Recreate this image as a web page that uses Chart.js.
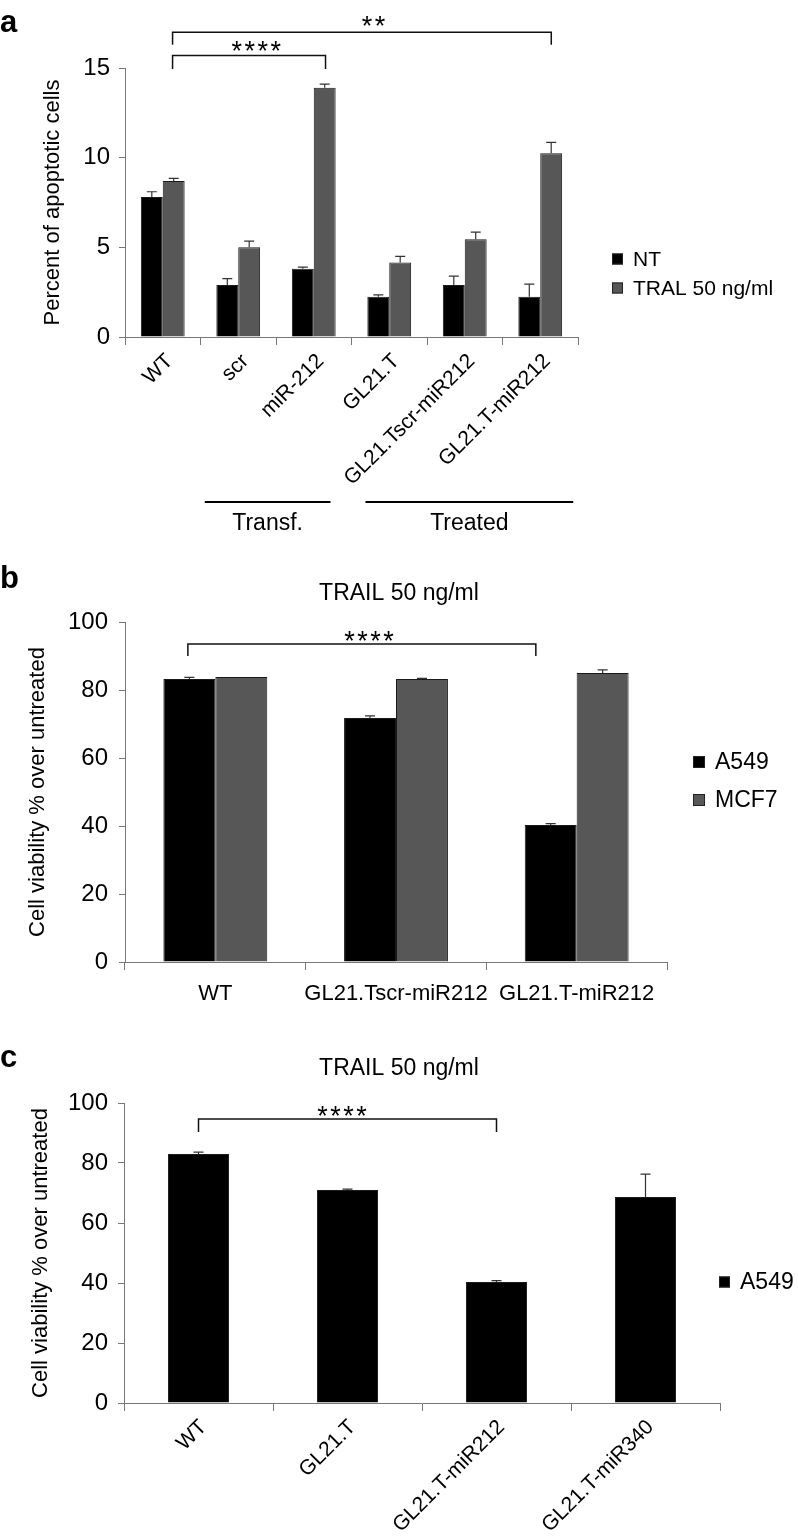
<!DOCTYPE html>
<html>
<head>
<meta charset="utf-8">
<script src="https://cdn.jsdelivr.net/npm/chart.js@4.4.1/dist/chart.umd.min.js"></script>
<style>
  body { margin: 0; background: #fff; width: 798px; height: 1536px; position: relative; overflow: hidden; }
  .panel { position: absolute; left: 0; width: 798px; }
</style>
</head>
<body>
<div class="panel" style="top:0;height:540px"><canvas id="chartA" width="798" height="540"></canvas></div>
<div class="panel" style="top:540px;height:500px"><canvas id="chartB" width="798" height="500"></canvas></div>
<div class="panel" style="top:1040px;height:496px"><canvas id="chartC" width="798" height="496"></canvas></div>
<script>
// panel a
const catsA = ['WT', 'scr', 'miR-212', 'GL21.T', 'GL21.Tscr-miR212', 'GL21.T-miR212'];
const ntA = [7.8, 2.9, 3.8, 2.25, 2.9, 2.25];
const ntErrA = [0.3, 0.35, 0.1, 0.1, 0.5, 0.7];
const tralA = [8.7, 5.0, 13.9, 4.15, 5.45, 10.25];
const tralErrA = [0.15, 0.35, 0.2, 0.35, 0.4, 0.6];
const ticksA = [0, 5, 10, 15];

// panel b
const catsB = ['WT', 'GL21.Tscr-miR212', 'GL21.T-miR212'];
const a549B = [83.2, 71.8, 40.3];
const a549ErrB = [0.5, 0.6, 0.4];
const mcf7B = [83.8, 83.2, 85.0];
const mcf7ErrB = [0, 0.2, 0.9];

// panel c
const catsC = ['WT', 'GL21.T', 'GL21.T-miR212', 'GL21.T-miR340'];
const a549C = [83.0, 71.0, 40.3, 68.7];
const a549ErrC = [0.6, 0.3, 0.5, 7.6];

const ticksBC = [0, 20, 40, 60, 80, 100];

const FONT = '"Liberation Sans", Arial, Helvetica, sans-serif';
Chart.defaults.font.family = FONT;
Chart.defaults.color = '#000';

const BLACK = '#000000';
const GREY = '#575757';

// error bars, brackets, legend, titles drawn on top of the bars
const decor = {
  id: 'decor',
  afterDatasetsDraw(chart) {
    const ctx = chart.ctx;
    const y = chart.scales.y;
    chart.data.datasets.forEach((ds, di) => {
      if (!ds.errors) return;
      const meta = chart.getDatasetMeta(di);
      meta.data.forEach((bar, i) => {
        const err = ds.errors[i];
        if (!err) return;
        const top = y.getPixelForValue(ds.data[i] + err);
        ctx.save();
        ctx.strokeStyle = '#333';
        ctx.lineWidth = 1.2;
        ctx.beginPath();
        ctx.moveTo(bar.x, bar.y);
        ctx.lineTo(bar.x, top);
        ctx.moveTo(bar.x - 5, top);
        ctx.lineTo(bar.x + 5, top);
        ctx.stroke();
        ctx.restore();
      });
    });
  },
  afterDraw(chart, args, opts) {
    const ctx = chart.ctx;
    const x = chart.scales.x, y = chart.scales.y;
    ctx.save();

    // panel letter
    ctx.fillStyle = '#000';
    ctx.font = 'bold 31px ' + FONT;
    ctx.textAlign = 'left';
    ctx.textBaseline = 'alphabetic';
    ctx.fillText(opts.letter, 0, opts.letterY);

    // panel title
    if (opts.title) {
      ctx.font = '23px ' + FONT;
      ctx.textAlign = 'center';
      ctx.fillText(opts.title, opts.titleX, opts.titleY);
    }

    // significance brackets
    (opts.brackets || []).forEach(b => {
      const x1 = x.getPixelForValue(b.from), x2 = x.getPixelForValue(b.to);
      const yl = y.getPixelForValue(b.level), yd = y.getPixelForValue(b.drop);
      ctx.strokeStyle = '#111';
      ctx.lineWidth = 1.5;
      ctx.beginPath();
      ctx.moveTo(x1, yd);
      ctx.lineTo(x1, yl);
      ctx.lineTo(x2, yl);
      ctx.lineTo(x2, yd);
      ctx.stroke();
      const cx = x.getPixelForValue(b.starX), cy = y.getPixelForValue(b.starY);
      ctx.font = '27px ' + FONT;
      ctx.textAlign = 'center';
      ctx.textBaseline = 'alphabetic';
      const n = b.stars;
      for (let k = 0; k < n; k++) {
        ctx.fillText('*', cx + (k - (n - 1) / 2) * 13, cy + 15);
      }
    });

    // group lines under the axis
    (opts.groups || []).forEach(g => {
      const x1 = x.getPixelForValue(g.from), x2 = x.getPixelForValue(g.to);
      ctx.strokeStyle = '#000';
      ctx.lineWidth = 2;
      ctx.beginPath();
      ctx.moveTo(x1, g.lineY);
      ctx.lineTo(x2, g.lineY);
      ctx.stroke();
      ctx.font = '23px ' + FONT;
      ctx.textAlign = 'center';
      ctx.textBaseline = 'alphabetic';
      ctx.fillText(g.text, (x1 + x2) / 2, g.textY);
    });

    // legend
    const lg = opts.legend;
    chart.data.datasets.forEach((ds, i) => {
      const cy = lg.y + i * lg.gap;
      ctx.fillStyle = ds.backgroundColor;
      ctx.fillRect(lg.x, cy - lg.size / 2, lg.size, lg.size);
      ctx.strokeStyle = '#222';
      ctx.lineWidth = 1;
      ctx.strokeRect(lg.x + 0.5, cy - lg.size / 2 + 0.5, lg.size - 1, lg.size - 1);
      ctx.fillStyle = '#000';
      ctx.font = lg.font + 'px ' + FONT;
      ctx.textAlign = 'left';
      ctx.textBaseline = 'middle';
      ctx.fillText(ds.label, lg.x + lg.size + 10, cy + 1);
    });

    ctx.restore();
  }
};

function barSet(label, data, errors, color) {
  return {
    label: label,
    data: data,
    errors: errors,
    backgroundColor: color,
    borderColor: '#1a1a1a',
    borderWidth: 1,
    barPercentage: 1.0
  };
}

function makeScales(cfg) {
  return {
    x: {
      grid: { display: true, drawOnChartArea: false, drawTicks: true, tickLength: 8, color: '#777', offset: true },
      border: { color: '#777', width: 1 },
      ticks: {
        font: { size: cfg.xFont },
        color: '#000',
        padding: cfg.xPad,
        labelOffset: cfg.xShift,
        minRotation: cfg.rot,
        maxRotation: cfg.rot,
        autoSkip: false
      },
      afterFit: s => { s.height = cfg.xHeight; }
    },
    y: {
      min: cfg.min,
      max: cfg.max,
      afterBuildTicks: s => { s.ticks = cfg.ticks.map(v => ({ value: v })); },
      grid: { display: true, drawOnChartArea: false, drawTicks: true, tickLength: 6, color: '#777' },
      border: { color: '#777', width: 1 },
      ticks: { font: { size: 24 }, color: '#000', padding: cfg.yPad },
      title: {
        display: true,
        text: cfg.yTitle,
        font: { size: 22 },
        color: '#000',
        padding: { top: cfg.titlePad, bottom: 0 }
      },
      afterFit: s => { s.width = cfg.yWidth; }
    }
  };
}

// panel a
new Chart(document.getElementById('chartA'), {
  type: 'bar',
  data: {
    labels: catsA,
    datasets: [
      Object.assign(barSet('NT', ntA, ntErrA, BLACK), { categoryPercentage: 0.58 }),
      Object.assign(barSet('TRAL 50 ng/ml', tralA, tralErrA, GREY), { categoryPercentage: 0.58 })
    ]
  },
  options: {
    responsive: false,
    animation: false,
    layout: { padding: { top: 68, right: 220, bottom: 0, left: 0 } },
    scales: makeScales({
      min: 0, max: 15, ticks: ticksA, yTitle: 'Percent of apoptotic cells',
      yWidth: 125, xHeight: 203, xFont: 21, xPad: 4, xShift: 7, rot: 45, yPad: 9, titlePad: 40
    }),
    plugins: {
      legend: { display: false },
      tooltip: { enabled: false },
      decor: {
        letter: 'a', letterY: 32,
        brackets: [
          { from: 0.13, to: 2.156, level: 15.7, drop: 14.95, stars: 4, starX: 1.24, starY: 16.3 },
          { from: 0.13, to: 5.146, level: 17.0, drop: 16.3, stars: 2, starX: 2.79, starY: 17.7 }
        ],
        groups: [
          { text: 'Transf.', from: 0.556, to: 2.222, lineY: 502, textY: 530 },
          { text: 'Treated', from: 2.685, to: 5.437, lineY: 502, textY: 530 }
        ],
        legend: { x: 612, y: 259, gap: 29, size: 11, font: 21 }
      }
    }
  },
  plugins: [decor]
});

// panel b
new Chart(document.getElementById('chartB'), {
  type: 'bar',
  data: {
    labels: catsB,
    datasets: [
      Object.assign(barSet('A549', a549B, a549ErrB, BLACK), { categoryPercentage: 0.575 }),
      Object.assign(barSet('MCF7', mcf7B, mcf7ErrB, GREY), { categoryPercentage: 0.575 })
    ]
  },
  options: {
    responsive: false,
    animation: false,
    layout: { padding: { top: 82, right: 131, bottom: 0, left: 0 } },
    scales: makeScales({
      min: 0, max: 100, ticks: ticksBC, yTitle: 'Cell viability % over untreated',
      yWidth: 125, xHeight: 78, xFont: 22, xPad: 11, xShift: 0, rot: 0, yPad: 11, titlePad: 25
    }),
    plugins: {
      legend: { display: false },
      tooltip: { enabled: false },
      decor: {
        letter: 'b', letterY: 48,
        title: 'TRAIL 50 ng/ml', titleX: 399, titleY: 60,
        brackets: [
          { from: -0.152, to: 1.774, level: 93.5, drop: 90, stars: 4, starX: 0.85, starY: 96.2 }
        ],
        legend: { x: 693, y: 222, gap: 38, size: 12, font: 23 }
      }
    }
  },
  plugins: [decor]
});

// panel c
new Chart(document.getElementById('chartC'), {
  type: 'bar',
  data: {
    labels: catsC,
    datasets: [
      Object.assign(barSet('A549', a549C, a549ErrC, BLACK), { categoryPercentage: 0.41 })
    ]
  },
  options: {
    responsive: false,
    animation: false,
    layout: { padding: { top: 63, right: 78, bottom: 0, left: 0 } },
    scales: makeScales({
      min: 0, max: 100, ticks: ticksBC, yTitle: 'Cell viability % over untreated',
      yWidth: 124, xHeight: 133, xFont: 21, xPad: 4, xShift: 5, rot: 45, yPad: 10, titlePad: 28
    }),
    plugins: {
      legend: { display: false },
      tooltip: { enabled: false },
      decor: {
        letter: 'c', letterY: 27,
        title: 'TRAIL 50 ng/ml', titleX: 399, titleY: 35,
        brackets: [
          { from: 0, to: 2, level: 94.7, drop: 90.3, stars: 4, starX: 0.963, starY: 97.7 }
        ],
        legend: { x: 719, y: 242, gap: 38, size: 11, font: 23 }
      }
    }
  },
  plugins: [decor]
});
</script>
</body>
</html>
